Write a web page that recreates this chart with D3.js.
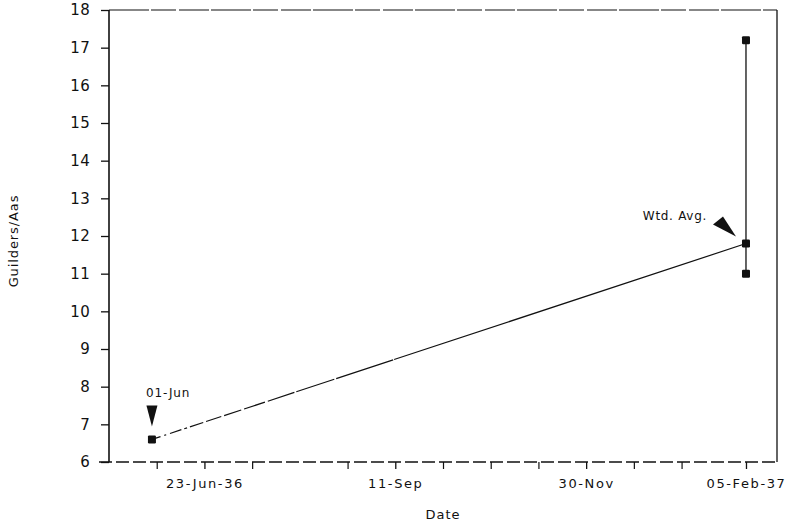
<!DOCTYPE html>
<html>
<head>
<meta charset="utf-8">
<script src="https://cdn.jsdelivr.net/npm/d3@7"></script>
<style>
  body { margin: 0; background: #fff; }
  svg { display: block; }
  text { font-family: "DejaVu Sans", sans-serif; fill: #111; }
</style>
</head>
<body>
<svg id="chart" width="809" height="524"></svg>
<script>
// ---- data ----
const yTicks = [6, 7, 8, 9, 10, 11, 12, 13, 14, 15, 16, 17, 18];
const majorTickDates = ["1936-06-23", "1936-09-11", "1936-11-30", "1937-02-05"];
const majorTickLabels = ["23-Jun-36", "11-Sep", "30-Nov", "05-Feb-37"];
const minorTickDates = ["1936-06-03", "1936-07-13", "1936-08-22", "1936-10-01", "1936-10-21",
                        "1936-11-10", "1936-12-20", "1937-01-09"];
const avgDates = ["1936-06-01", "1937-02-05"];
const avgValues = [6.6, 11.8];
const rangeDate = "1937-02-05";
const rangeValues = [17.2, 11.0];
const annotations = [
  { date: "1936-06-01", value: 6.6, label: "01-Jun" },
  { date: "1937-02-05", value: 11.8, label: "Wtd. Avg." }
];

const parse = d3.utcParse("%Y-%m-%d");
const svg = d3.select("#chart");
const L = 109, R = 777, T = 10, B = 462;

const x = d3.scaleUtc()
  .domain([parse("1936-05-14"), parse("1937-02-18")])
  .range([L, R]);
const y = d3.scaleLinear().domain([6, 18]).range([B, T]);

// frame
const frame = svg.append("g").attr("stroke", "#111").attr("fill", "none");
frame.append("line").attr("x1", L).attr("x2", L).attr("y1", T).attr("y2", B).attr("stroke-width", 1.6);
frame.append("line").attr("x1", R).attr("x2", R).attr("y1", T).attr("y2", B).attr("stroke-width", 1.3);
frame.append("line").attr("x1", L).attr("x2", R).attr("y1", T).attr("y2", T)
  .attr("stroke-width", 1.2).attr("stroke-dasharray", "40,2,25,3,30,2");
frame.append("line").attr("x1", L - 10).attr("x2", R).attr("y1", B).attr("y2", B)
  .attr("stroke-width", 1.5).attr("stroke-dasharray", "13,4");

// y axis
const yAxis = d3.axisLeft(y).tickValues(yTicks).tickSize(8).tickPadding(11).tickFormat(d3.format("d"));
const gy = svg.append("g").attr("transform", `translate(${L},0)`).call(yAxis);
gy.select(".domain").remove();
gy.selectAll(".tick line").attr("stroke", "#111").attr("stroke-width", 1.3);
gy.selectAll(".tick text").attr("font-size", 15).attr("letter-spacing", 0.3);

// x axis: minor ticks
const xMinor = d3.axisBottom(x).tickValues(minorTickDates.map(parse)).tickSize(7).tickFormat("");
const gxm = svg.append("g").attr("transform", `translate(0,${B})`).call(xMinor);
gxm.select(".domain").remove();
gxm.selectAll(".tick line").attr("stroke", "#111").attr("stroke-width", 1.2);

// x axis: major ticks with labels
const labelMap = new Map(majorTickDates.map((d, i) => [+parse(d), majorTickLabels[i]]));
const xMajor = d3.axisBottom(x).tickValues(majorTickDates.map(parse)).tickSize(7).tickPadding(10)
  .tickFormat(d => labelMap.get(+d));
const gx = svg.append("g").attr("transform", `translate(0,${B})`).call(xMajor);
gx.select(".domain").remove();
gx.selectAll(".tick line").attr("stroke", "#111").attr("stroke-width", 1.3);
gx.selectAll(".tick text").attr("font-size", 13).attr("letter-spacing", 1.6);

// axis titles
svg.append("text").attr("x", 443).attr("y", 519).attr("text-anchor", "middle")
  .attr("font-size", 13).attr("letter-spacing", 1).text("Date");
svg.append("text").attr("transform", "translate(18,241) rotate(-90)").attr("text-anchor", "middle")
  .attr("font-size", 13).attr("letter-spacing", 0.9).text("Guilders/Aas");

// weighted average line
const avgPts = avgDates.map((d, i) => [x(parse(d)), y(avgValues[i])]);
svg.append("path").attr("d", d3.line()(avgPts))
  .attr("fill", "none").attr("stroke", "#111").attr("stroke-width", 1.2)
  .attr("stroke-dasharray", "9,4,2,4,12,3,3,3,14,3,16,3,18,3,22,3,28,2,40,2,60,1,1000");

// high-low range line
const rx = x(parse(rangeDate));
svg.append("line").attr("x1", rx).attr("x2", rx)
  .attr("y1", y(rangeValues[0])).attr("y2", y(rangeValues[1]))
  .attr("stroke", "#111").attr("stroke-width", 1.3);

// markers
const allPts = avgPts.concat(rangeValues.map(v => [rx, y(v)]));
svg.append("g").selectAll("rect").data(allPts).join("rect")
  .attr("x", d => d[0] - 4).attr("y", d => d[1] - 4)
  .attr("width", 8).attr("height", 8).attr("rx", 1.2).attr("fill", "#111");

// annotations
const a0 = annotations[0];
const ax0 = x(parse(a0.date)), ay0 = y(a0.value);
svg.append("path")
  .attr("d", `M${ax0 - 5.5},${ay0 - 34}L${ax0 + 5.5},${ay0 - 34}L${ax0},${ay0 - 13}Z`)
  .attr("fill", "#111");
svg.append("text").attr("x", ax0 - 6).attr("y", ay0 - 42).attr("font-size", 12)
  .attr("letter-spacing", 0.9).text(a0.label);

const a1 = annotations[1];
const ax1 = x(parse(a1.date)), ay1 = y(a1.value);
svg.append("path")
  .attr("d", `M${ax1 - 33},${ay1 - 19}L${ax1 - 23},${ay1 - 27}L${ax1 - 10},${ay1 - 7}Z`)
  .attr("fill", "#111");
svg.append("text").attr("x", ax1 - 39).attr("y", ay1 - 24).attr("text-anchor", "end")
  .attr("font-size", 12).attr("letter-spacing", 0.7).text(a1.label);
</script>
</body>
</html>
